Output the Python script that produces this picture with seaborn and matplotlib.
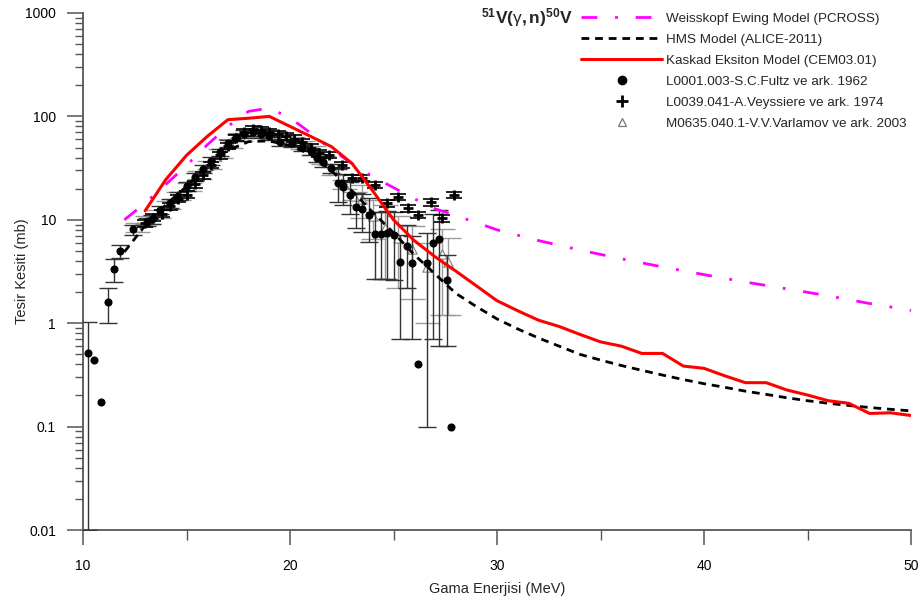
import matplotlib
matplotlib.use("Agg")
import matplotlib.pyplot as plt
from matplotlib.lines import Line2D
from matplotlib.ticker import LogLocator, NullFormatter, FixedLocator, FuncFormatter
import pandas as pd
import seaborn as sns

# ---- Model calculations: photon energy (MeV) and cross section (mb) ----
pcross_e = [12, 13, 14, 15, 16, 17, 18, 19, 20, 21, 22, 23, 24, 25, 26, 27, 28, 29,
            30, 32, 34, 36, 38, 40, 42, 44, 46, 48, 50]
pcross_xs = [10.0, 14.5, 22, 33.5, 53, 80, 112, 120, 97, 69, 48, 35, 26, 20.5, 16, 12.8, 11, 9.4,
             8.0, 6.3, 5.1, 4.2, 3.5, 2.95, 2.5, 2.15, 1.84, 1.55, 1.33]

alice_e = [12, 13, 14, 15, 16, 17, 18, 19, 20, 21, 22, 23, 24, 25, 26, 27, 28, 29, 30,
           31, 32, 33, 34, 35, 36, 37, 38, 39, 40, 41, 42, 43, 44, 45, 46, 47, 48, 49, 50]
alice_xs = [4.9, 8.8, 14, 21, 34, 47, 57, 58, 52, 43, 30, 19, 11.8, 7.5, 4.6, 3.0, 1.95, 1.45, 1.1,
            0.88, 0.72, 0.6, 0.5, 0.44, 0.39, 0.35, 0.315, 0.285, 0.26, 0.24, 0.22, 0.205, 0.19,
            0.178, 0.168, 0.16, 0.153, 0.147, 0.142]

cem_e = [13, 14, 15, 16, 17, 18, 19, 20, 21, 22, 23, 24, 25, 26, 27, 28, 29, 30, 31, 32,
         33, 34, 35, 36, 37, 38, 39, 40, 41, 42, 43, 44, 45, 46, 47, 48, 49, 50]
cem_xs = [12.2, 24.5, 42, 64, 93, 96, 100, 80, 64, 51, 35, 19, 10, 6.3, 4.4, 3.2, 2.3, 1.65, 1.32, 1.07,
          0.93, 0.78, 0.66, 0.60, 0.51, 0.51, 0.385, 0.366, 0.31, 0.266, 0.266, 0.226, 0.202, 0.178,
          0.168, 0.134, 0.136, 0.128]

# ---- Experimental data (EXFOR) ----
fultz_e = [10.24, 10.53, 10.87, 11.2, 11.5, 11.8, 12.42, 13.1, 13.35, 13.7, 14.2, 14.6, 15.0, 15.4,
           15.8, 16.2, 16.6, 17.0, 17.4, 17.8, 18.2, 18.6, 19.0, 19.5, 20.1, 20.6, 21.0, 21.3, 21.6,
           22.0, 22.3, 22.56, 22.9, 23.2, 23.5, 23.8, 24.1, 24.4, 24.7, 25.0, 25.3, 25.65, 25.9,
           26.2, 26.6, 26.9, 27.2, 27.6, 27.8]
fultz_xs = [0.515, 0.44, 0.173, 1.6, 3.35, 5.0, 8.1, 9.6, 10.2, 12.5, 14.5, 17, 21, 26,
            31, 37, 45, 55, 63, 68, 70, 68, 64, 56, 55, 50.7, 46, 39.7, 36,
            31.6, 22.7, 20.8, 17.4, 13.3, 12.6, 11.1, 7.3, 7.3, 7.4, 7.2, 3.9, 5.6, 3.8,
            0.40, 3.8, 6.0, 6.5, 2.6, 0.10]
fultz_err = [0.505, 0, 0, 0.6, 0.85, 0.75, 0.9, 0.9, 1.0, 1.2, 1.4, 1.6, 2.0, 2.4,
             2.8, 3.2, 3.8, 4.5, 5.0, 5.5, 5.5, 5.5, 5.0, 4.5, 4.5, 4.2, 4.0, 3.5, 3.3,
             3.0, 8.0, 7.0, 6.0, 5.0, 5.0, 5.0, 4.6, 4.6, 4.7, 4.6, 3.2, 3.4, 3.1,
             0, 3.7, 5.3, 5.9, 2.0, 0]

veys_e = [13.0, 13.4, 13.8, 14.2, 14.6, 15.0, 15.4, 15.8, 16.2, 16.6, 17.0, 17.4, 17.8, 18.2,
          18.6, 19.0, 19.4, 19.8, 20.2, 20.6, 21.0, 21.4, 21.9, 22.5, 23.0, 23.5, 24.1, 24.7,
          25.2, 25.7, 26.2, 26.8, 27.35, 27.9]
veys_xs = [9.3, 10.5, 11.5, 13.5, 16, 17.5, 22, 27, 34, 42, 52, 62, 70, 75,
           74, 71, 68, 64, 61, 56, 50, 44, 42.4, 33.9, 25.4, 25.4, 21.7, 14.5,
           16.6, 13, 11.1, 14.8, 10.4, 17.4]
veys_err = [0.7, 0.8, 0.9, 1.0, 1.2, 1.3, 1.6, 2.0, 2.5, 3.0, 3.8, 4.5, 5.0, 5.5,
            5.5, 5.0, 5.0, 4.6, 4.4, 4.0, 3.6, 3.2, 3.1, 2.5, 1.9, 1.9, 1.6, 1.1,
            1.2, 1.0, 0.8, 1.1, 0.8, 1.3]

varl_e = [12.6, 13.1, 13.6, 14.1, 14.6, 15.1, 15.6, 16.1, 16.6, 17.1, 17.6, 18.1, 18.6, 19.1,
          19.6, 20.1, 20.6, 21.1, 21.6, 22.1, 22.6, 23.1, 23.5, 24.0, 24.6, 25.2, 25.9, 26.6,
          27.35, 27.65]
varl_xs = [8.5, 10, 11.5, 14, 17, 21, 27, 34, 44, 55, 64, 70, 70, 66,
           62, 58, 53, 47, 38, 30, 22, 17, 16, 11, 8.3, 6.6, 5.2, 3.5, 4.7, 3.9]
varl_err = [0.8, 0.9, 1.0, 1.3, 1.5, 1.9, 2.4, 3.0, 4.0, 5.0, 5.8, 6.3, 6.3, 6.0,
            5.6, 5.2, 4.8, 4.2, 3.4, 2.7, 2.0, 1.6, 5.5, 4.5, 5.6, 4.4, 3.5, 2.5, 3.5, 2.7]

labels = ["Weisskopf Ewing Model (PCROSS)", "HMS Model (ALICE-2011)",
          "Kaskad Eksiton Model (CEM03.01)", "L0001.003-S.C.Fultz ve ark. 1962",
          "L0039.041-A.Veyssiere ve ark. 1974", "M0635.040.1-V.V.Varlamov ve ark. 2003"]

sns.set_theme(style="ticks")
plt.rcParams["font.family"] = ["Liberation Sans", "DejaVu Sans"]
plt.rcParams["mathtext.fontset"] = "custom"
plt.rcParams["mathtext.rm"] = "Liberation Sans"
plt.rcParams["mathtext.it"] = "Liberation Sans:italic"
plt.rcParams["mathtext.bf"] = "Liberation Sans:bold"

fig = plt.figure(figsize=(9.21, 6.03), dpi=100)
ax = fig.add_axes([83 / 921, 1 - 530 / 603, 828 / 921, 517 / 603])

axis_col = "#555555"
MAG = "#ff00ff"
pc_dash = (5.7, 6.4, 1.0, 6.4)
hms_dash = (2.8, 2.1)


def with_errors(e, xs, err):
    df = pd.DataFrame({"e": e, "xs": xs, "err": err})
    return df, df[df["err"] > 0]


varl_df, varl_eb = with_errors(varl_e, varl_xs, varl_err)
fultz_df, fultz_eb = with_errors(fultz_e, fultz_xs, fultz_err)
veys_df, veys_eb = with_errors(veys_e, veys_xs, veys_err)

# experimental points with uncertainties
ax.errorbar(varl_eb["e"], varl_eb["xs"], yerr=varl_eb["err"], fmt="none", ecolor="#9a9a9a",
            elinewidth=1.0, capsize=9, capthick=1.0, zorder=2)
sns.scatterplot(data=varl_df, x="e", y="xs", marker="^", s=45, facecolor="white",
                edgecolor="#8a8a8a", linewidth=0.9, ax=ax, zorder=3)

ax.errorbar(fultz_eb["e"], fultz_eb["xs"], yerr=fultz_eb["err"], fmt="none", ecolor="#333333",
            elinewidth=1.0, capsize=6.5, capthick=1.0, zorder=3)
sns.scatterplot(data=fultz_df, x="e", y="xs", marker="o", s=34, color="black",
                edgecolor="black", linewidth=0, ax=ax, zorder=4)

ax.errorbar(veys_eb["e"], veys_eb["xs"], yerr=veys_eb["err"], fmt="none", ecolor="black",
            elinewidth=1.0, capsize=5.5, capthick=1.2, zorder=4)
sns.scatterplot(data=veys_df, x="e", y="xs", marker="+", s=60, color="black", linewidth=2.0,
                ax=ax, zorder=5)

# model curves
sns.lineplot(x=pcross_e, y=pcross_xs, color=MAG, lw=2.0, ax=ax, zorder=6)
ax.lines[-1].set_dashes(pc_dash)
sns.lineplot(x=alice_e, y=alice_xs, color="black", lw=2.0, ax=ax, zorder=6)
ax.lines[-1].set_dashes(hms_dash)
sns.lineplot(x=cem_e, y=cem_xs, color="#ff0000", lw=2.2, ax=ax, zorder=7)

ax.set_yscale("log")
ax.set_xlim(10, 50)
ax.set_ylim(0.01, 1000)

ax.xaxis.set_major_locator(FixedLocator([10, 20, 30, 40, 50]))
ax.xaxis.set_minor_locator(FixedLocator([15, 25, 35, 45]))
ax.yaxis.set_major_locator(LogLocator(base=10, numticks=10))
ax.yaxis.set_minor_locator(LogLocator(base=10, subs=range(2, 10), numticks=10))
ax.yaxis.set_minor_formatter(NullFormatter())
ax.yaxis.set_major_formatter(FuncFormatter(lambda v, p: f"{v:g}"))

for s in ["top", "right"]:
    ax.spines[s].set_visible(False)
for s in ["left", "bottom"]:
    ax.spines[s].set_color(axis_col)
    ax.spines[s].set_linewidth(1.3)
ax.tick_params(axis="both", which="major", direction="out", color=axis_col, width=1.1,
               labelsize=10, labelcolor="black")
ax.tick_params(axis="y", which="major", length=11.5, pad=8)
ax.tick_params(axis="y", which="minor", length=6, width=1.0, color=axis_col)
ax.tick_params(axis="x", which="major", length=11, pad=10)
ax.tick_params(axis="x", which="minor", length=7, width=1.0, color=axis_col)

ax.set_xlabel("Gama Enerjisi (MeV)", fontsize=10.5, labelpad=6)
ax.set_ylabel("Tesir Kesiti (mb)", fontsize=10.5, labelpad=-2.5)

fig.text(481 / 921, 1 - 18 / 603, r"$\mathbf{^{51}V(}\mathrm{\gamma}\mathbf{,n)^{50}V}$",
         fontsize=12.5, ha="left", va="center")

handles = [
    Line2D([], [], color=MAG, lw=2.0, dashes=pc_dash),
    Line2D([], [], color="black", lw=2.0, dashes=hms_dash),
    Line2D([], [], color="#ff0000", lw=2.2),
    Line2D([], [], ls="none", marker="o", ms=6, color="black"),
    Line2D([], [], ls="none", marker="+", ms=8, mew=2.0, color="black"),
    Line2D([], [], ls="none", marker="^", ms=6, mfc="white", mec="#777777", mew=0.9),
]
ax.legend(handles, labels, loc="upper left", bbox_to_anchor=(572 / 921, 1 - 3 / 603),
          bbox_transform=fig.transFigure, frameon=False, fontsize=9.7, handlelength=6.0,
          handletextpad=0.3, labelspacing=0.64, borderpad=0.2, numpoints=1)

fig.savefig("out.png", dpi=100)
